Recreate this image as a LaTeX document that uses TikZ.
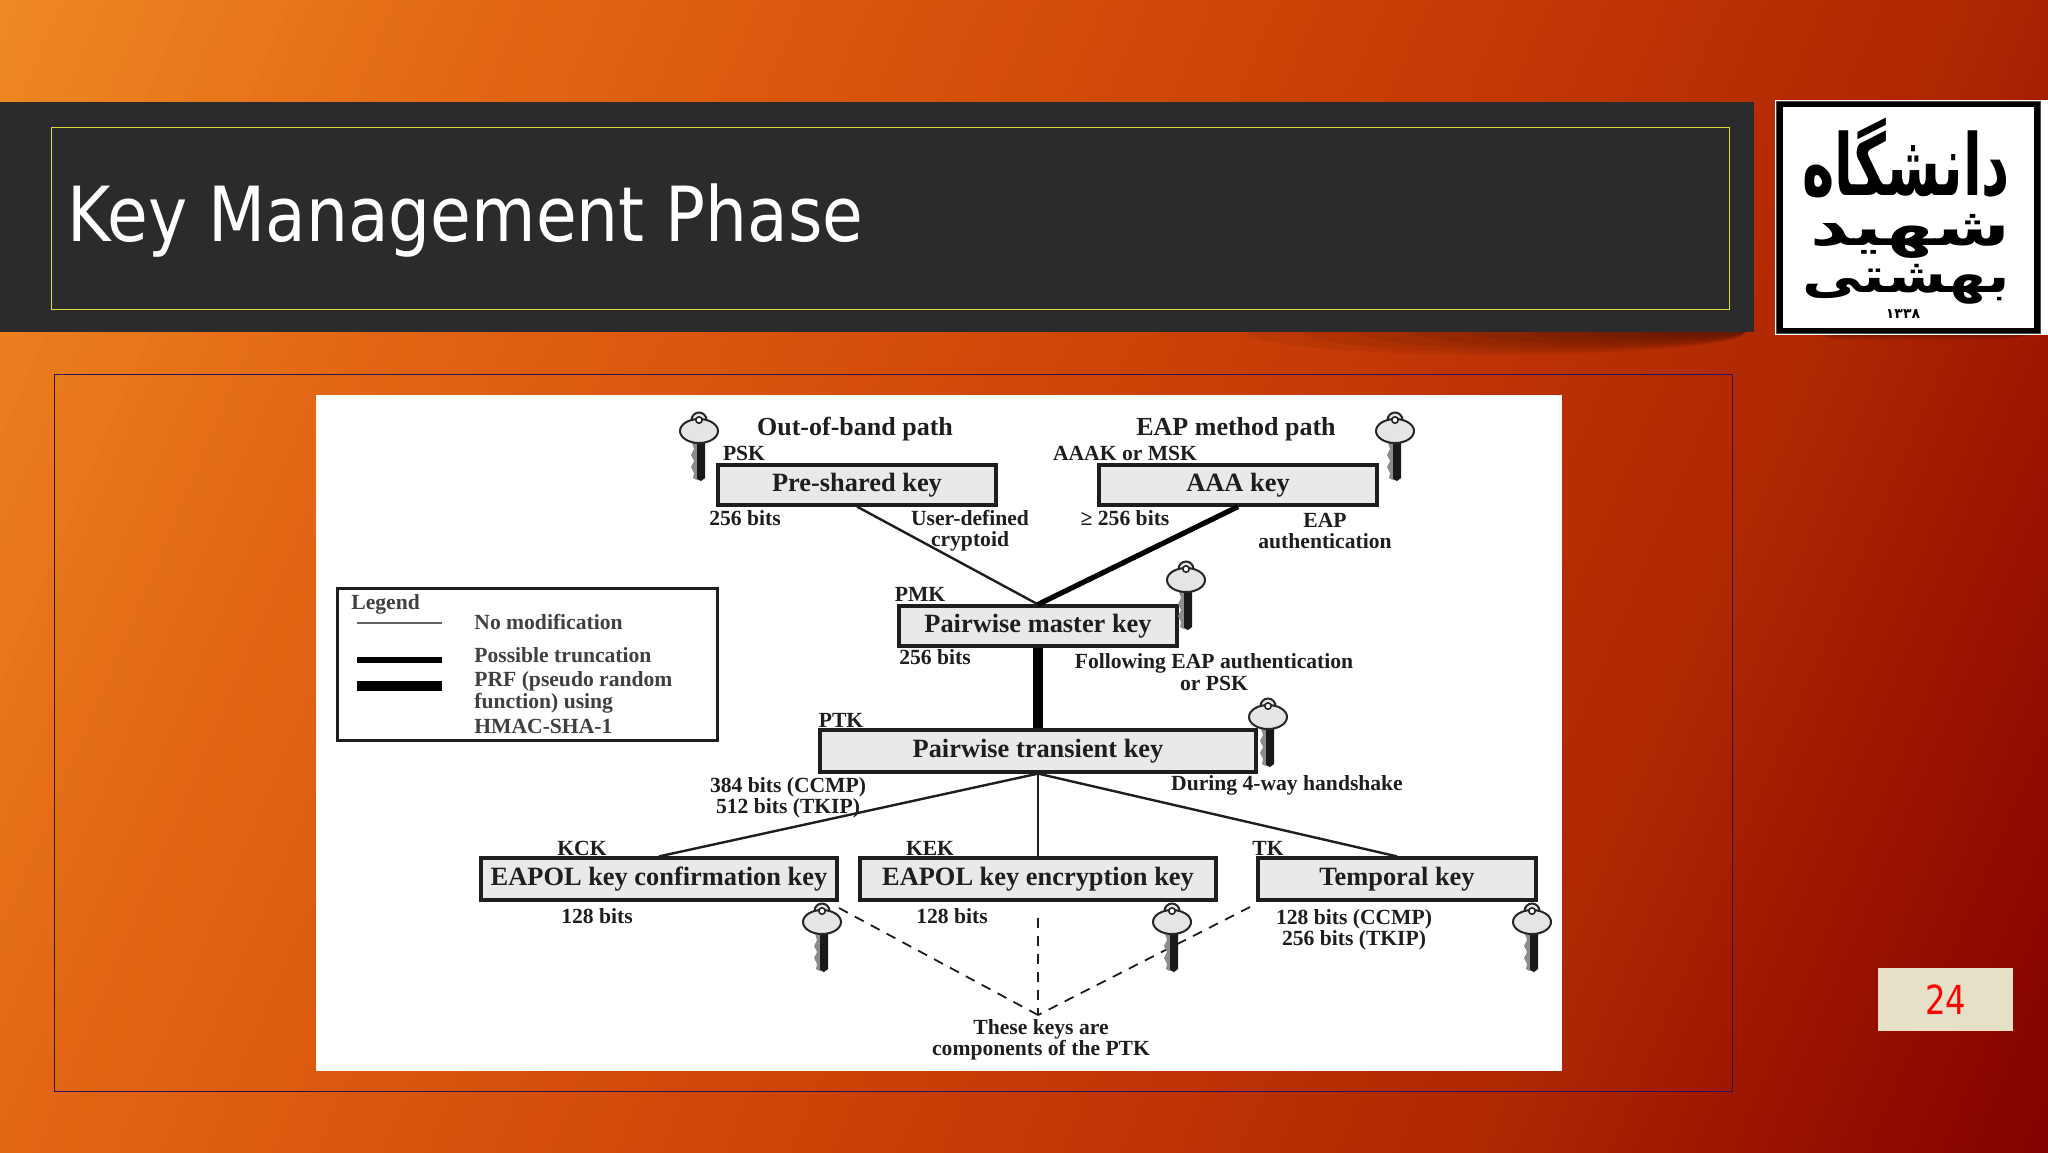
\documentclass[tikz,border=0pt]{standalone}
\usepackage{fontspec}
\usepackage{graphicx}
\setmainfont{Liberation Serif}
\newfontfamily\titlefont{DejaVu Sans}
\newfontfamily\arabicfont[Script=Arabic]{DejaVu Sans}
\TeXXeTstate=1
\definecolor{inkc}{HTML}{1E1E1E}
\definecolor{bandc}{HTML}{2B2B2E}
\definecolor{boxc}{HTML}{E9E9E9}
\definecolor{framec}{HTML}{2A1550}
\definecolor{pagec}{HTML}{E6E0C6}
\definecolor{ruleyel}{HTML}{DDDD33}
\definecolor{g0}{RGB}{238,136,34}
\definecolor{g1}{RGB}{226,102,20}
\definecolor{g2}{RGB}{212,78,10}
\definecolor{g3}{RGB}{195,55,5}
\definecolor{g4}{RGB}{172,38,2}
\definecolor{g5}{RGB}{158,22,0}
\definecolor{g6}{RGB}{130,0,0}
\tikzset{
 x=0.5pt,y=-0.5pt,
 keybox/.style={draw=inkc,fill=boxc,line width=1.6pt,inner sep=0pt,text height=9.5pt,text depth=3.5pt,font=\bfseries\fontsize{13.2}{15}\selectfont,text=inkc},
 lab/.style={inner sep=0pt,font=\bfseries\fontsize{10.8}{10.6}\selectfont,text=inkc,align=center},
 head/.style={inner sep=0pt,font=\bfseries\fontsize{13}{15}\selectfont,text=inkc,align=center},
 leg/.style={inner sep=0pt,anchor=west,font=\bfseries\fontsize{10.8}{12}\selectfont,text=inkc!85},
 thinline/.style={draw=inkc,line width=1.2pt},
 midline/.style={draw=black,line width=2.6pt},
 fatline/.style={draw=black,line width=5.4pt},
 dashline/.style={draw=inkc,line width=0.9pt,dash pattern=on 5pt off 4pt},
 keyicon/.pic={
  \fill[black!45] (-2,12) -- (-7,16) -- (-5,22) -- (-8,28) -- (-5,34) -- (-8,40) -- (-5,46) -- (-6,51) -- (-2,53) -- cycle;
  \fill[black!90] (-2,10) -- (6,10) -- (6,51) -- (2,54) -- (-2,52) -- cycle;
  \draw[black!85,line width=1pt,fill=black!10] (0,-7) circle (7.5);
  \draw[black!85,line width=1pt,fill=black!10] (0,4) ellipse (19 and 12);
  \fill[black!10] (-5,-6) rectangle (5,-2);
  \draw[black!85,line width=0.8pt,fill=white] (0,-7) circle (3.2);
 }
}
\begin{document}
\begin{tikzpicture}
\useasboundingbox (0,0) rectangle (2048,1152);
% background: overlapping diagonal bands of a piecewise linear gradient
\begin{scope}
 \clip (0,0) rectangle (2048,1152);
 \fill[g0] (0,0) rectangle (2048,1152);
 \foreach \ta/\tb/\ca/\cb in {0/500/g0/g1,500/1024/g1/g2,1024/1536/g2/g3,1536/2000/g3/g4,2000/2200/g4/g5,2200/2548/g5/g6}{
  \foreach \k in {0,...,23}{
   \pgfmathsetmacro\tt{(\ta+(\tb-\ta)*\k/24)*0.92}
   \pgfmathsetmacro\pp{100*(24-\k)/24}
   \fill[\ca!\pp!\cb] ({\tt*0.92+3000*0.39},{\tt*0.39-3000*0.92}) -- ({\tt*0.92-3000*0.39},{\tt*0.39+3000*0.92})
     -- ({(\tt+4000)*0.92-3000*0.39},{(\tt+4000)*0.39+3000*0.92}) -- ({(\tt+4000)*0.92+3000*0.39},{(\tt+4000)*0.39-3000*0.92}) -- cycle;
  }
 }
 % soft shadows under the band and the logo
 \foreach \d in {1,...,8}{
  \fill[black,opacity=0.06] ({1745-(25+28*\d)},332) ellipse ({25+28*\d} and {2+2.6*\d});
  \fill[black,opacity=0.04] (1800+\d*3,333) -- (2040,333) -- (2040-\d*5,333+\d*0.9) -- (1810+\d*3,333+\d*0.9) -- cycle;
 }
\end{scope}
% title band
\fill[bandc] (0,102) rectangle (1754,332);
\node[draw=ruleyel,line width=0.7pt,minimum width=839pt,minimum height=91pt,inner sep=0pt,anchor=north west] (titlebox) at (51,126.5) {};
\node[anchor=base west,inner sep=0pt,text=white] (title) at (67,241) {\resizebox{398pt}{\height}{\titlefont\fontsize{38}{44}\selectfont Key Management Phase}};
% logo
\fill[white] (1775,100) rectangle (2048,335);
\node[draw=black,line width=2.6pt,minimum width=128.5pt,minimum height=113pt,inner sep=0pt] (logo) at (1908.5,217.5) {};
\node[draw=black!70,line width=0.6pt,minimum width=132pt,minimum height=116pt,inner sep=0pt] (logoout) at (1908.5,217.5) {};
\node[inner sep=0pt] (logoa) at (1906,158) {\resizebox*{104pt}{40pt}{\arabicfont\bfseries\beginR دانشگاه\endR}};
\node[inner sep=0pt] (logob) at (1910,236) {\resizebox*{100pt}{22pt}{\arabicfont\bfseries\beginR شهید\endR}};
\node[inner sep=0pt] (logoc) at (1906,284) {\resizebox*{104pt}{20pt}{\arabicfont\bfseries\beginR بهشتی\endR}};
\node[inner sep=0pt] (logod) at (1903,314) {\arabicfont\bfseries\fontsize{7}{8}\selectfont ۱۳۳۸};
% panel
\node[draw=framec,line width=0.7pt,minimum width=839pt,minimum height=358.5pt,inner sep=0pt,anchor=north west] (panel) at (53.5,374) {};
\node[fill=white,minimum width=623pt,minimum height=338pt,inner sep=0pt,anchor=north west] (sheet) at (316,395) {};
% page number
\node[fill=pagec,minimum width=67.5pt,minimum height=31.5pt,inner sep=0pt,text=red] (pageno) at (1945.5,999.5) {\resizebox{20.5pt}{\height}{\titlefont\fontsize{20}{24}\selectfont 24}};
% boxes
\node[keybox,minimum width=139pt,minimum height=20pt] (psk) at (857,485) {Pre-shared key};
\node[keybox,minimum width=139pt,minimum height=20pt] (aaa) at (1238,485) {AAA key};
\node[keybox,minimum width=139pt,minimum height=20pt] (pmk) at (1038,626) {Pairwise master key};
\node[keybox,minimum width=218pt,minimum height=21pt] (ptk) at (1038,751) {Pairwise transient key};
\node[keybox,minimum width=178pt,minimum height=21pt] (kck) at (659,879) {EAPOL key confirmation key};
\node[keybox,minimum width=178pt,minimum height=21pt] (kek) at (1038,879) {EAPOL key encryption key};
\node[keybox,minimum width=139pt,minimum height=21pt] (tk) at (1397,879) {Temporal key};
% connectors
\draw[thinline] (psk.south) -- (pmk.north);
\draw[midline] (aaa.south) -- (pmk.north);
\draw[fatline] (pmk.south) -- (ptk.north);
\draw[thinline] (ptk.south) -- (kck.north);
\draw[thinline] (ptk.south) -- (kek.north);
\draw[thinline] (ptk.south) -- (tk.north);
% labels
\node[head] (oob) at (855,429) {Out-of-band path};
\node[head] (eap) at (1236,429) {EAP method path};
\node[lab] (lpsk) at (744,453) {PSK};
\node[lab] (laaak) at (1125,453) {AAAK or MSK};
\node[lab] (b1) at (745,518) {256 bits};
\node[lab] (ud) at (970,531) {User-defined\\cryptoid};
\node[lab] (b2) at (1125,518) {≥ 256 bits};
\node[lab] (ea) at (1325,531) {EAP\\authentication};
\node[lab] (lpmk) at (920,594) {PMK};
\node[lab] (b3) at (935,657) {256 bits};
\node[lab] (fe) at (1214,672) {Following EAP authentication\\or PSK};
\node[lab] (lptk) at (841,720) {PTK};
\node[lab] (hs) at (1287,785) {During 4-way handshake};
\node[lab] (b4) at (788,798) {384 bits (CCMP)\\512 bits (TKIP)};
\node[lab] (lkck) at (582,848) {KCK};
\node[lab] (lkek) at (930,848) {KEK};
\node[lab] (ltk) at (1268,848) {TK};
\node[lab] (b5) at (597,916) {128 bits};
\node[lab] (b6) at (952,916) {128 bits};
\node[lab] (b7) at (1354,930) {128 bits (CCMP)\\256 bits (TKIP)};
\node[lab] (comp) at (1041,1040) {These keys are\\components of the PTK};
% dashed
\coordinate (dj) at (1038,1015);
\coordinate (d1) at (839,908);
\coordinate (d2) at (1038,918);
\coordinate (d3) at (1250,907);
\draw[dashline] (d1) -- (dj);
\draw[dashline] (d2) -- (dj);
\draw[dashline] (d3) -- (dj);
% keys
\pic at (699,427) {keyicon};
\pic at (1395,427) {keyicon};
\pic at (1186,576) {keyicon};
\pic at (1268,713) {keyicon};
\pic at (822,918) {keyicon};
\pic at (1172,918) {keyicon};
\pic at (1532,918) {keyicon};
% legend
\node[draw=inkc,line width=1.5pt,minimum width=190pt,minimum height=76pt,inner sep=0pt,anchor=north west] (legend) at (336,587) {};
\node[leg] (lgt) at (351,604) {Legend};
\node[leg] (lg1) at (474,622) {No modification};
\node[leg] (lg2) at (474,655) {Possible truncation};
\node[leg] (lg3) at (474,681) {PRF (pseudo random};
\node[leg] (lg4) at (474,703) {function) using};
\node[leg] (lg5) at (474,726) {HMAC-SHA-1};
\coordinate (la1) at (357,623); \coordinate (lb1) at (442,623);
\coordinate (la2) at (357,660); \coordinate (lb2) at (442,660);
\coordinate (la3) at (357,686); \coordinate (lb3) at (442,686);
\draw[draw=inkc!70,line width=0.8pt] (la1) -- (lb1);
\draw[midline] (la2) -- (lb2);
\draw[fatline] (la3) -- (lb3);
\end{tikzpicture}
\end{document}
